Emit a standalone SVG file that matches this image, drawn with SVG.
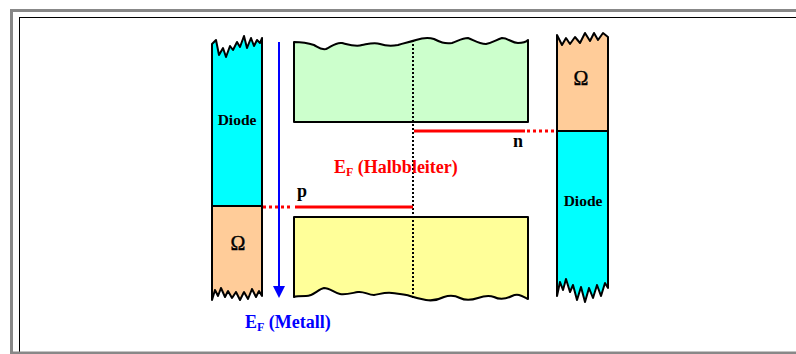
<svg xmlns="http://www.w3.org/2000/svg" width="796" height="354" viewBox="0 0 796 354">
<defs>
<style>
.ol{stroke:#000;stroke-width:2;stroke-linejoin:round}
.t{font-family:"Liberation Serif","Times New Roman",serif;font-weight:bold}
.om{font-family:"Liberation Serif","Times New Roman",serif;font-weight:normal;font-size:20px;stroke:#000;stroke-width:0.4}
.lvl{stroke:#f00;stroke-width:3;fill:none}
.dot{stroke:#f00;stroke-width:3;stroke-dasharray:3 3;fill:none}
</style>
</defs>
<rect x="0" y="0" width="796" height="354" fill="#fff"/>
<rect x="19.5" y="17.5" width="790" height="335" fill="none" stroke="#000" stroke-width="1"/>
<rect x="11.5" y="10.5" width="800" height="342.5" fill="none" stroke="#888" stroke-width="3"/>

<g id="left-column">
<path d="M212,206 L212,44 L216,40 L219,55 L223,48 L226,57 L230,46 L233,50 L237,42 L240,47 L244,36 L247,48 L251,38 L254,46 L257,40 L260,43 L262,38 L262,206 Z" fill="#0ff" class="ol"/>
<path d="M212,206 L262,206 L262,296 L259,291 L256,297 L252,289 L248,299 L244,292 L240,300 L236,292 L232,298 L228,291 L225,297 L221,288 L218,296 L215,290 L212,300 Z" fill="#fc9" class="ol"/>
<text class="t" x="237" y="125" font-size="15.5" text-anchor="middle">Diode</text>
<text class="om" x="238" y="250" text-anchor="middle">Ω</text>
</g>

<g id="right-column">
<path d="M557,131 L557,35 L562,45 L566,38 L570,44 L575,37 L580,43 L585,33 L590,41 L594,33 L598,40 L603,33 L608,37 L608,131 Z" fill="#fc9" class="ol"/>
<path d="M557,131 L608,131 L608,288 L605,283 L601,296 L597,285 L593,298 L589,288 L585,302 L581,287 L577,300 L573,285 L570,292 L566,279 L563,290 L560,282 L557,296 Z" fill="#0ff" class="ol"/>
<text class="om" x="581" y="85" text-anchor="middle">Ω</text>
<text class="t" x="583" y="206" font-size="15.5" text-anchor="middle">Diode</text>
</g>

<g id="conduction-band">
<path d="M294,122 L294,42 C300,42 308,43 314,45 C318,47 320,50 326,49 C332,46 336,42 342,43 C350,45 356,47 362,45 C368,44 374,42 380,44 C386,46 392,46 398,45 C404,43 410,42 416,40 C422,38 428,37 434,39 C440,42 444,44 452,43 C458,41 462,38 468,38 C474,40 478,44 486,44 C492,43 496,40 502,38 C508,38 512,43 518,43 C522,43 526,42 528,40 L528,122 Z" fill="#cfc" class="ol"/>
</g>

<g id="valence-band">
<path d="M294,217 L528,217 L528,299 C522,296 518,293 512,296 C506,299 500,300 494,297 C488,295 484,296 478,298 C472,300 466,301 460,298 C454,295 450,295 444,297 C438,300 432,301 426,300 C420,299 416,298 410,296 C404,294 398,294 392,293 C386,292 380,294 374,295 C368,295 364,291 358,292 C352,293 346,295 340,294 C334,293 330,288 324,288 C318,289 314,296 306,296 C300,296 296,296 294,297 Z" fill="#ff9" class="ol"/>
</g>

<g id="connectors">
<line x1="413" y1="40" x2="413" y2="300" stroke="#000" stroke-width="2" stroke-dasharray="2 2"/>
<line x1="279" y1="42" x2="279" y2="287" stroke="#00f" stroke-width="2"/>
<polygon points="273,286 285,286 279,298" fill="#00f"/>
<line class="lvl" x1="414" y1="131" x2="525" y2="131"/>
<line class="dot" x1="527" y1="131" x2="556" y2="131"/>
<line class="lvl" x1="295" y1="207" x2="413" y2="207"/>
<line class="dot" x1="263" y1="207" x2="293" y2="207"/>
</g>

<g id="labels">
<text class="t" x="513" y="147" font-size="18">n</text>
<text class="t" x="297" y="197" font-size="18">p</text>
<text class="t" x="334" y="173" font-size="18" fill="#f00">E<tspan font-size="12" dy="3">F</tspan><tspan dy="-3"> (Halbbleiter)</tspan></text>
<text class="t" x="245" y="328" font-size="18" fill="#00f">E<tspan font-size="12" dy="3">F</tspan><tspan dy="-3"> (Metall)</tspan></text>
</g>
</svg>
